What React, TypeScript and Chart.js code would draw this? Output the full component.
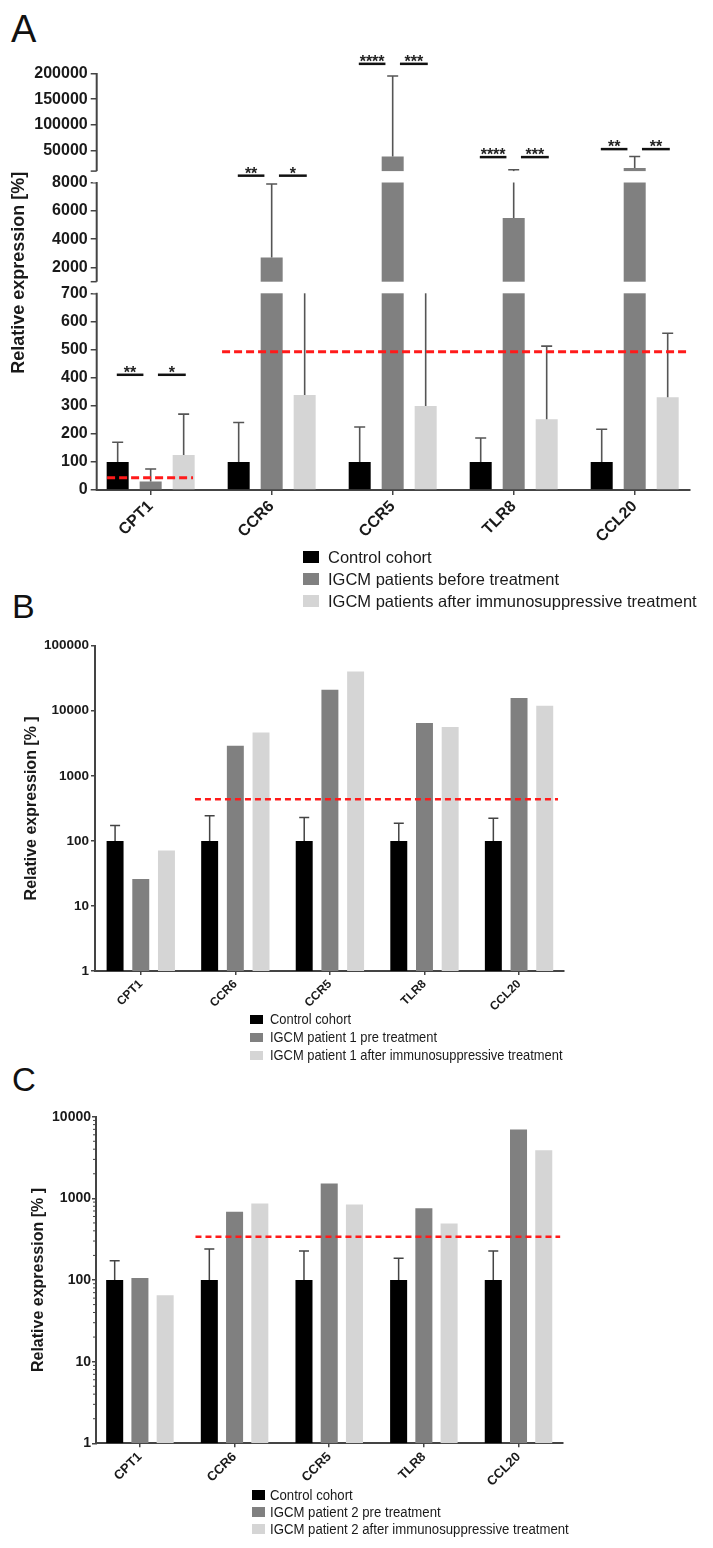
import React, { useEffect, useRef } from 'react';
import { Chart, registerables, LinearScale } from 'chart.js';

Chart.register(...registerables);

// ---------------- data ----------------
const CATEGORIES = ['CPT1', 'CCR6', 'CCR5', 'TLR8', 'CCL20'];

const SERIES_A = ['Control cohort', 'IGCM patients before treatment', 'IGCM patients after immunosuppressive treatment'];
const A_CONTROL = [100, 100, 100, 100, 100];
const A_CONTROL_SD = [70, 140, 124, 85, 116];
const A_BEFORE = [30, 2700, 38400, 5500, 15800];
const A_BEFORE_SD = [45, 5190, 156600, 7000, 22600];
const A_AFTER = [125, 338, 299, 252, 330];
const A_AFTER_SD = [145, 612, 651, 260, 228];
const A_TICKS = [0, 100, 200, 300, 400, 500, 600, 700, 2000, 4000, 6000, 8000, 50000, 100000, 150000, 200000];
const A_CUTOFFS = [
  { from: -0.36, to: 0.35, value: 44 },
  { from: 0.59, to: 4.457, value: 492 },
];
const A_SIGNIFICANCE = [
  { category: 0, value: 410, left: '**', right: '*' },
  { category: 1, value: 9200, left: '**', right: '*' },
  { category: 2, value: 218750, left: '****', right: '***' },
  { category: 3, value: 37240, left: '****', right: '***' },
  { category: 4, value: 52800, left: '**', right: '**' },
];

const SERIES_B = ['Control cohort', 'IGCM patient 1 pre treatment', 'IGCM patient 1 after immunosuppressive treatment'];
const B_CONTROL = [100, 100, 100, 100, 100];
const B_CONTROL_SD = [72, 143, 128, 87, 123];
const B_BEFORE = [26, 2900, 21000, 6460, 15700];
const B_AFTER = [71, 4630, 40200, 5610, 11900];
const B_TICKS = [1, 10, 100, 1000, 10000, 100000];
const B_CUTOFFS = [{ from: 0.573, to: 4.412, value: 438 }];

const SERIES_C = ['Control cohort', 'IGCM patient 2 pre treatment', 'IGCM patient 2 after immunosuppressive treatment'];
const C_CONTROL = [100, 100, 100, 100, 100];
const C_CONTROL_SD = [72, 139, 126, 85, 126];
const C_BEFORE = [106, 684, 1521, 759, 6970];
const C_AFTER = [65, 867, 842, 493, 3890];
const C_TICKS = [1, 10, 100, 1000, 10000];
const C_CUTOFFS = [{ from: 0.587, to: 4.44, value: 338 }];

// ---------------- style ----------------
const COLORS = ['#000000', '#808080', '#d5d5d5'];
const AXIS = '#444444';
const TEXT = '#1a1a1a';
const FONT = '"Liberation Sans", Arial, sans-serif';

// broken axis layout of panel A (value ranges and their relative heights)
const A_AXIS_PIECES = [
  { lo: 0, hi: 700, size: 196.7, gap: false },
  { lo: 700, hi: 1000, size: 11.6, gap: true },
  { lo: 1000, hi: 8000, size: 99.2, gap: false },
  { lo: 8000, hi: 10000, size: 11.4, gap: true },
  { lo: 10000, hi: 235000, size: 115.6, gap: false },
];
const A_AXIS_TOP = 200000;

class BrokenLinearScale extends LinearScale {
  static id = 'brokenLinear';
  static defaults = LinearScale.defaults;
  buildTicks() {
    return A_TICKS.map((v) => ({ value: v }));
  }
  getPixelForValue(value: number) {
    const total = A_AXIS_PIECES.reduce((s, p) => s + p.size, 0);
    let acc = 0;
    for (let i = 0; i < A_AXIS_PIECES.length; i++) {
      const p = A_AXIS_PIECES[i];
      if (value <= p.hi || i === A_AXIS_PIECES.length - 1) {
        const f = Math.max(0, Math.min(1, (value - p.lo) / (p.hi - p.lo)));
        return this.getPixelForDecimal((acc + f * p.size) / total);
      }
      acc += p.size;
    }
    return this.getPixelForDecimal(0);
  }
  getValueForPixel(pixel: number) {
    const total = A_AXIS_PIECES.reduce((s, p) => s + p.size, 0);
    const d = this.getDecimalForPixel(pixel) * total;
    let acc = 0;
    for (const p of A_AXIS_PIECES) {
      if (d <= acc + p.size) return p.lo + ((d - acc) / p.size) * (p.hi - p.lo);
      acc += p.size;
    }
    return A_AXIS_PIECES[A_AXIS_PIECES.length - 1].hi;
  }
}
Chart.register(BrokenLinearScale);

const toPoints = (vals: number[]) => vals.map((v, i) => ({ x: i, y: v }));

// ---------------- plugins ----------------
function makeErrorBars(color: string, width: number, cap: number) {
  return {
    id: 'errorBars',
    afterDatasetsDraw(chart: any) {
      const { ctx } = chart;
      const y = chart.scales.y;
      ctx.save();
      ctx.strokeStyle = color;
      ctx.lineWidth = width;
      chart.data.datasets.forEach((ds: any, di: number) => {
        if (!ds.errors) return;
        const meta = chart.getDatasetMeta(di);
        meta.data.forEach((bar: any, i: number) => {
          const sd = ds.errors[i];
          if (!sd) return;
          const v = ds.data[i].y;
          const top = y.getPixelForValue(v + sd);
          ctx.beginPath();
          ctx.moveTo(bar.x, bar.y);
          ctx.lineTo(bar.x, top);
          ctx.moveTo(bar.x - cap / 2, top);
          ctx.lineTo(bar.x + cap / 2, top);
          ctx.stroke();
        });
      });
      ctx.restore();
    },
  };
}

function makeCutoff(lines: { from: number; to: number; value: number }[], width: number, dash: number[]) {
  return {
    id: 'cutoff',
    afterDatasetsDraw(chart: any) {
      const { ctx } = chart;
      const x = chart.scales.x;
      const y = chart.scales.y;
      ctx.save();
      ctx.strokeStyle = '#ff1a1a';
      ctx.lineWidth = width;
      ctx.setLineDash(dash);
      for (const l of lines) {
        const py = y.getPixelForValue(l.value);
        ctx.beginPath();
        ctx.moveTo(x.getPixelForValue(l.from), py);
        ctx.lineTo(x.getPixelForValue(l.to), py);
        ctx.stroke();
      }
      ctx.restore();
    },
  };
}

const brokenAxisPlugin = {
  id: 'brokenAxis',
  afterDatasetsDraw(chart: any) {
    const { ctx, chartArea } = chart;
    const y = chart.scales.y;
    const { left, right, bottom } = chartArea;
    ctx.save();
    ctx.fillStyle = '#ffffff';
    for (const p of A_AXIS_PIECES) {
      if (!p.gap) continue;
      const y1 = y.getPixelForValue(p.hi);
      const y2 = y.getPixelForValue(p.lo);
      ctx.fillRect(left - 4, y1, right - left + 8, y2 - y1);
    }
    ctx.strokeStyle = AXIS;
    ctx.lineWidth = 2;
    A_AXIS_PIECES.forEach((p, i) => {
      if (p.gap) return;
      const y1 = i === 0 ? bottom + 1 : y.getPixelForValue(p.lo);
      const y2 = y.getPixelForValue(Math.min(p.hi, A_AXIS_TOP));
      ctx.beginPath();
      ctx.moveTo(left, y1);
      ctx.lineTo(left, y2 - 0.5);
      ctx.stroke();
      if (i > 0) {
        ctx.lineWidth = 1.5;
        ctx.beginPath();
        ctx.moveTo(left - 6, y1);
        ctx.lineTo(left, y1);
        ctx.stroke();
        ctx.lineWidth = 2;
      }
    });
    ctx.restore();
  },
};

const significancePlugin = {
  id: 'significance',
  afterDatasetsDraw(chart: any) {
    const { ctx } = chart;
    const x = chart.scales.x;
    const y = chart.scales.y;
    ctx.save();
    ctx.strokeStyle = '#111';
    ctx.fillStyle = '#222';
    ctx.lineWidth = 2.5;
    ctx.font = `bold 16px ${FONT}`;
    ctx.textAlign = 'center';
    ctx.textBaseline = 'alphabetic';
    for (const s of A_SIGNIFICANCE) {
      const py = y.getPixelForValue(s.value);
      const parts: [number, number, string][] = [
        [-0.28, -0.06, s.left],
        [0.06, 0.29, s.right],
      ];
      for (const [a, b, label] of parts) {
        const x1 = x.getPixelForValue(s.category + a);
        const x2 = x.getPixelForValue(s.category + b);
        ctx.beginPath();
        ctx.moveTo(x1, py);
        ctx.lineTo(x2, py);
        ctx.stroke();
        ctx.fillText(label, (x1 + x2) / 2, py + 3);
      }
    }
    ctx.restore();
  },
};

function makeMinorTicks(decades: number[]) {
  return {
    id: 'minorTicks',
    afterDraw(chart: any) {
      const { ctx, chartArea } = chart;
      const y = chart.scales.y;
      ctx.save();
      ctx.strokeStyle = AXIS;
      ctx.lineWidth = 1;
      for (const d of decades) {
        for (let k = 2; k <= 9; k++) {
          const py = y.getPixelForValue(k * d);
          ctx.beginPath();
          ctx.moveTo(chartArea.left - 3, py);
          ctx.lineTo(chartArea.left, py);
          ctx.stroke();
        }
      }
      ctx.restore();
    },
  };
}

// ---------------- configs ----------------
function xScale(min: number, max: number, height: number, fontSize: number, rotation: number, tickLength: number) {
  return {
    type: 'linear',
    offset: false,
    min,
    max,
    afterBuildTicks: (s: any) => {
      s.ticks = CATEGORIES.map((_, i) => ({ value: i }));
    },
    afterFit: (s: any) => {
      s.height = height;
    },
    grid: { offset: false, drawOnChartArea: false, drawTicks: true, tickLength, color: AXIS, lineWidth: 1.5 },
    border: { display: true, color: AXIS, width: 2 },
    ticks: {
      autoSkip: false,
      minRotation: rotation,
      maxRotation: rotation,
      padding: 2,
      color: TEXT,
      font: { family: FONT, size: fontSize, weight: 'bold' },
      callback: (v: number) => CATEGORIES[v] ?? '',
    },
  };
}

function datasets(labels: string[], values: number[][], errors: (number[] | null)[]) {
  return values.map((vals, i) => ({
    label: labels[i],
    data: toPoints(vals),
    errors: errors[i],
    backgroundColor: COLORS[i],
    borderWidth: 0,
  }));
}

function configA() {
  return {
    type: 'bar',
    data: {
      datasets: datasets(SERIES_A, [A_CONTROL, A_BEFORE, A_AFTER], [A_CONTROL_SD, A_BEFORE_SD, A_AFTER_SD]),
    },
    options: {
      responsive: false,
      animation: false,
      events: [],
      layout: { padding: { left: 4.4, right: 23, top: 15.5, bottom: 0 } },
      plugins: { legend: { display: false }, tooltip: { enabled: false } },
      datasets: { bar: { categoryPercentage: 0.818, barPercentage: 0.667 } },
      scales: {
        x: xScale(-0.446, 4.457, 60, 16, 45, 5),
        y: {
          type: 'brokenLinear',
          min: 0,
          max: 235000,
          afterFit: (s: any) => {
            s.width = 92.3;
          },
          border: { display: false },
          grid: { drawOnChartArea: false, drawTicks: true, tickLength: 6, color: AXIS, lineWidth: 1.5 },
          ticks: {
            autoSkip: false,
            padding: 3,
            color: TEXT,
            font: { family: FONT, size: 16, weight: 'bold' },
            callback: (v: number) => String(v),
          },
          title: {
            display: true,
            text: 'Relative expression [%]',
            color: TEXT,
            font: { family: FONT, size: 18, weight: 'bold' },
            padding: { top: 4, bottom: 4 },
          },
        },
      },
    },
    plugins: [makeErrorBars('#555', 1.6, 11), brokenAxisPlugin, makeCutoff(A_CUTOFFS, 3, [8, 4]), significancePlugin],
  };
}

function logConfig(
  labels: string[],
  values: number[][],
  errors: (number[] | null)[],
  ticks: number[],
  cutoffs: any[],
  geom: any,
  extraPlugins: any[]
) {
  return {
    type: 'bar',
    data: { datasets: datasets(labels, values, errors) },
    options: {
      responsive: false,
      animation: false,
      events: [],
      layout: { padding: geom.padding },
      plugins: { legend: { display: false }, tooltip: { enabled: false } },
      datasets: { bar: { categoryPercentage: geom.catPct, barPercentage: geom.barPct } },
      scales: {
        x: xScale(geom.xmin, geom.xmax, geom.xHeight, geom.xFont, geom.rotation, 4),
        y: {
          type: 'logarithmic',
          min: ticks[0],
          max: ticks[ticks.length - 1],
          afterBuildTicks: (s: any) => {
            s.ticks = ticks.map((v) => ({ value: v }));
          },
          afterFit: (s: any) => {
            s.width = geom.yWidth;
          },
          border: { display: true, color: AXIS, width: 2 },
          grid: { drawOnChartArea: false, drawTicks: true, tickLength: 4, color: AXIS, lineWidth: 1.5 },
          ticks: {
            autoSkip: false,
            padding: geom.yPad,
            color: TEXT,
            font: { family: FONT, size: geom.yFont, weight: 'bold' },
            callback: (v: number) => String(v),
          },
          title: {
            display: true,
            text: 'Relative expression [% ]',
            color: TEXT,
            font: { family: FONT, size: 16, weight: 'bold' },
            padding: { top: 4, bottom: 4 },
          },
        },
      },
    },
    plugins: [makeErrorBars('#444', 1.5, 10), makeCutoff(cutoffs, 2.5, [6, 4]), ...extraPlugins],
  };
}

function configB() {
  return logConfig(
    SERIES_B,
    [B_CONTROL, B_BEFORE, B_AFTER],
    [B_CONTROL_SD, null, null],
    B_TICKS,
    B_CUTOFFS,
    {
      padding: { left: 18.4, right: 149.7, top: 15.7, bottom: 0 },
      yWidth: 76.6,
      xHeight: 39,
      xmin: -0.484,
      xmax: 4.468,
      catPct: 0.815,
      barPct: 0.66,
      xFont: 12,
      yFont: 13.5,
      yPad: 2,
      rotation: 45,
    },
    []
  );
}

function configC() {
  return logConfig(
    SERIES_C,
    [C_CONTROL, C_BEFORE, C_AFTER],
    [C_CONTROL_SD, null, null],
    C_TICKS,
    C_CUTOFFS,
    {
      padding: { left: 24.7, right: 150, top: 26.7, bottom: 0 },
      yWidth: 71.3,
      xHeight: 46.7,
      xmin: -0.464,
      xmax: 4.47,
      catPct: 0.8,
      barPct: 0.675,
      xFont: 13,
      yFont: 14,
      yPad: 1,
      rotation: 45,
    },
    [makeMinorTicks([1, 10, 100, 1000])]
  );
}

// ---------------- components ----------------
function ChartCanvas({ top, height, makeConfig }: { top: number; height: number; makeConfig: () => any }) {
  const ref = useRef<HTMLCanvasElement | null>(null);
  useEffect(() => {
    if (!ref.current) return;
    const chart = new Chart(ref.current, makeConfig() as any);
    return () => chart.destroy();
  }, []);
  return (
    <canvas
      ref={ref}
      width={713}
      height={height}
      style={{ position: 'absolute', left: 0, top, width: 713, height }}
    />
  );
}

function Legend({
  labels,
  centers,
  boxLeft,
  textLeft,
  boxW,
  boxH,
  fontSize,
  scaleX,
}: {
  labels: string[];
  centers: number[];
  boxLeft: number;
  textLeft: number;
  boxW: number;
  boxH: number;
  fontSize: number;
  scaleX: number;
}) {
  return (
    <>
      {labels.map((label, i) => (
        <React.Fragment key={label}>
          <div
            style={{
              position: 'absolute',
              left: boxLeft,
              top: centers[i] - boxH / 2,
              width: boxW,
              height: boxH,
              background: COLORS[i],
            }}
          />
          <div
            style={{
              position: 'absolute',
              left: textLeft,
              top: centers[i] - 10,
              height: 20,
              lineHeight: '20px',
              fontSize,
              fontFamily: FONT,
              color: TEXT,
              whiteSpace: 'nowrap',
              transform: `scaleX(${scaleX})`,
              transformOrigin: 'left center',
            }}
          >
            {label}
          </div>
        </React.Fragment>
      ))}
    </>
  );
}

function Letter({ text, left, top, size }: { text: string; left: number; top: number; size: number }) {
  return (
    <div
      style={{
        position: 'absolute',
        left,
        top,
        fontSize: size,
        lineHeight: 1,
        fontFamily: FONT,
        color: '#111',
      }}
    >
      {text}
    </div>
  );
}

export default function App() {
  return (
    <div
      style={{
        position: 'absolute',
        left: 0,
        top: 0,
        width: 713,
        height: 1548,
        background: '#ffffff',
        overflow: 'hidden',
      }}
    >
      <Letter text="A" left={11} top={10} size={38} />
      <ChartCanvas top={40} height={510} makeConfig={configA} />
      <Legend
        labels={SERIES_A}
        centers={[557, 579, 600.5]}
        boxLeft={303}
        textLeft={328}
        boxW={16}
        boxH={12}
        fontSize={16.5}
        scaleX={1}
      />

      <Letter text="B" left={12} top={589} size={34} />
      <ChartCanvas top={630} height={380} makeConfig={configB} />
      <Legend
        labels={SERIES_B}
        centers={[1019.3, 1037.3, 1055]}
        boxLeft={250}
        textLeft={270}
        boxW={13}
        boxH={9}
        fontSize={15}
        scaleX={0.86}
      />

      <Letter text="C" left={12} top={1063} size={33} />
      <ChartCanvas top={1090} height={400} makeConfig={configC} />
      <Legend
        labels={SERIES_C}
        centers={[1495, 1512, 1529]}
        boxLeft={252}
        textLeft={270}
        boxW={13}
        boxH={10}
        fontSize={15.5}
        scaleX={0.85}
      />
    </div>
  );
}
